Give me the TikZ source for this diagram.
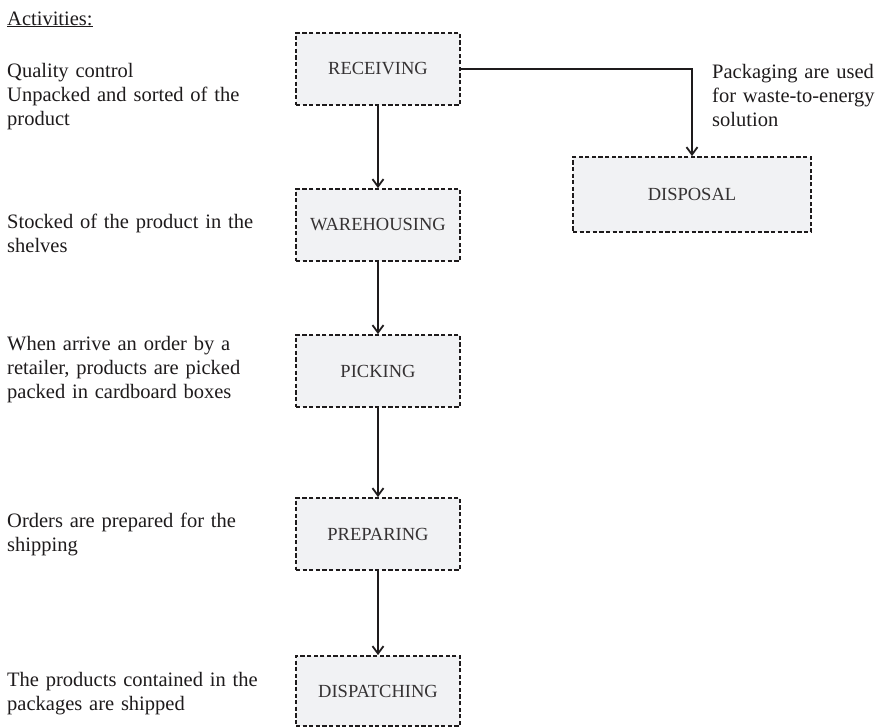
\documentclass[tikz,border=0pt]{standalone}
\usepackage{fontspec}
\setmainfont{Liberation Serif}
\usetikzlibrary{arrows.meta}
\definecolor{boxfill}{RGB}{241,242,244}
\definecolor{ink}{RGB}{30,27,28}
\tikzset{
  stage/.style={draw=ink, fill=boxfill, line width=1.8pt, dash pattern=on 4.2pt off 2.4pt,
    minimum width=164pt, minimum height=72pt, inner sep=0pt,
    font=\fontsize{18.5}{20}\selectfont, text=ink!90},
  flow/.style={draw=ink, line width=1.8pt,
    -{Straight Barb[length=7.5pt,width=11pt,line width=1.8pt]}},
  note/.style={anchor=base west, inner sep=0pt, text width=270pt, align=left,
    font=\fontsize{20.5}{24.3}\selectfont, text=ink},
}
\begin{document}
\begin{tikzpicture}[x=1pt,y=-1pt]
\useasboundingbox (0,0) rectangle (892,726);
% stages
\node[stage] (rec) at (378,69) {RECEIVING};
\node[stage] (war) at (378,225) {WAREHOUSING};
\node[stage] (pic) at (378,371) {PICKING};
\node[stage] (pre) at (378,534) {PREPARING};
\node[stage, minimum height=70pt] (dis) at (378,691) {DISPATCHING};
\node[stage, minimum width=238pt, minimum height=75pt] (dsp) at (692,194.5) {DISPOSAL};
% connectors
\draw[flow] (rec.south) -- (war.north);
\draw[flow] (war.south) -- (pic.north);
\draw[flow] (pic.south) -- (pre.north);
\draw[flow] (pre.south) -- (dis.north);
\draw[flow] (rec.east) -| (dsp.north);
% notes
\node[note] (act) at (7,25) {\underline{Activities:}};
\node[note] (n1) at (7,77) {Quality control\\Unpacked and sorted of the\\product};
\node[note] (n2) at (7,228) {Stocked of the product in the\\shelves};
\node[note] (n3) at (7,350) {When arrive an order by a\\retailer, products are picked\\packed in cardboard boxes};
\node[note] (n4) at (7,527) {Orders are prepared for the\\shipping};
\node[note] (n5) at (7,686) {The products contained in the\\packages are shipped};
\node[note, text width=176pt] (pk) at (712,78) {\makebox[176pt][s]{Packaging are used}\\\makebox[176pt][s]{for waste-to-energy}\\solution};
\end{tikzpicture}
\end{document}
